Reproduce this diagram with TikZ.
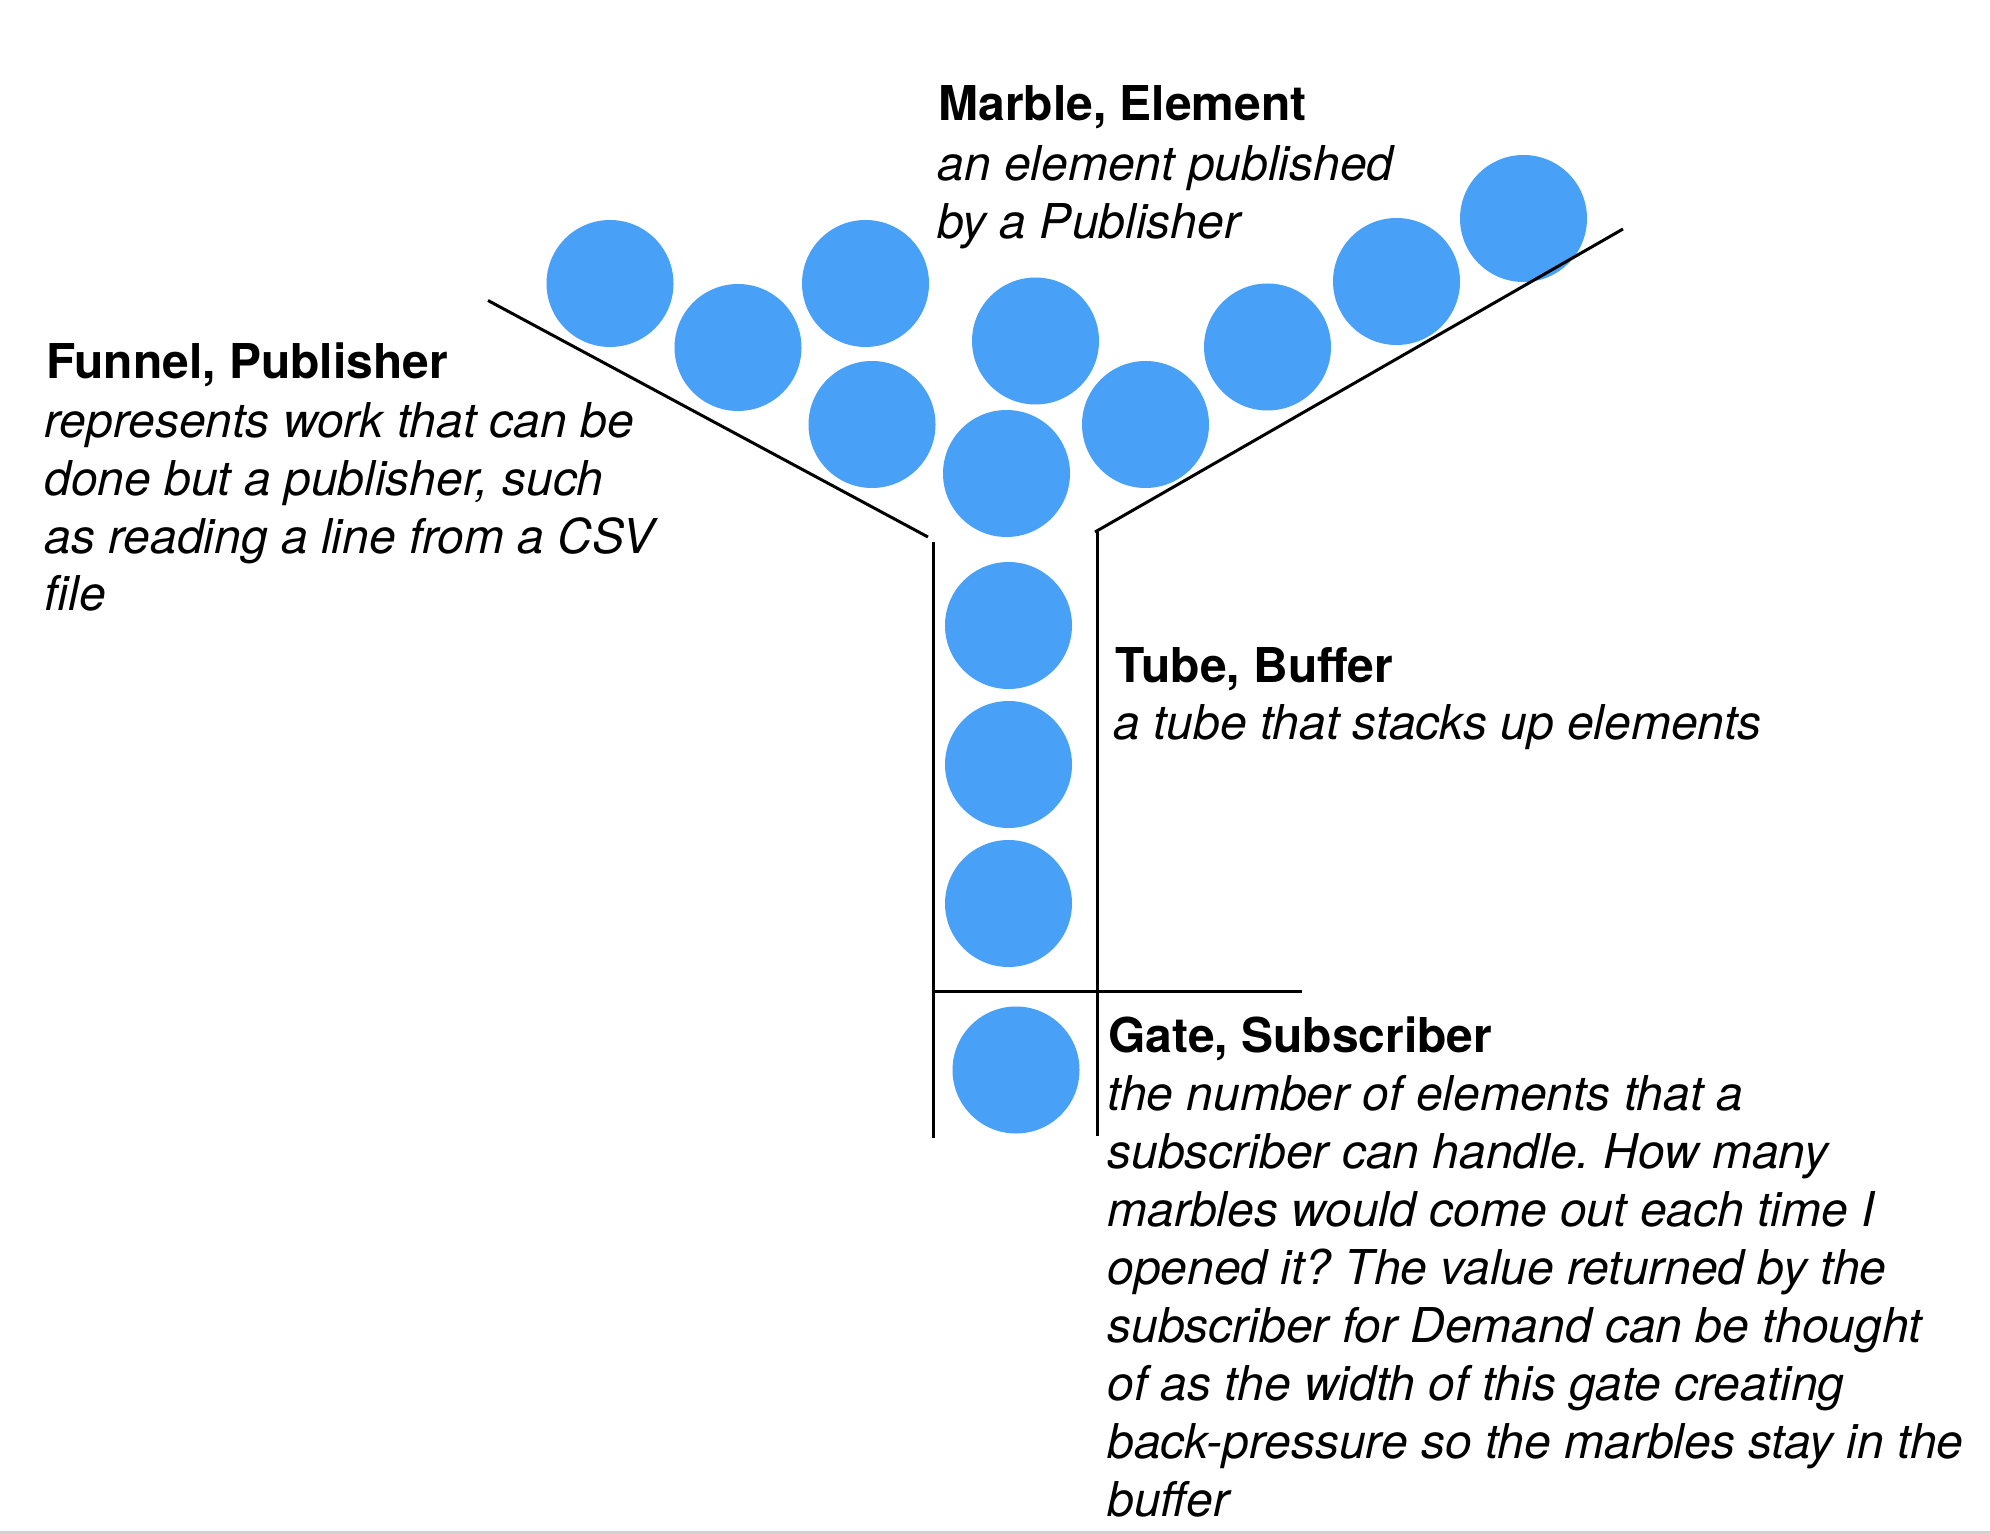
\documentclass[tikz,border=0pt]{standalone}
\usepackage{fontspec}
\setmainfont{TeX Gyre Heros}
\definecolor{marble}{RGB}{72,161,247}
\definecolor{edge}{RGB}{210,210,210}
\frenchspacing
\begin{document}
\begin{tikzpicture}[x=0.5pt,y=-0.5pt,
  marblenode/.style={circle,fill=marble,draw=none,minimum size=63.5pt,inner sep=0pt},
  wall/.style={line width=1.5pt,black,line cap=butt},
  hd/.style={anchor=base west,inner sep=0pt,font=\fontsize{24}{28.75}\selectfont\bfseries},
  bd/.style={anchor=base west,inner sep=0pt,font=\fontsize{24}{28.75}\selectfont\itshape}]
\useasboundingbox[fill=white] (0,0) rectangle (1990,1534);
\fill[edge] (0,1531) rectangle (1990,1534);
% marbles
\node[marblenode] (c1) at (610,283.5) {};
\node[marblenode] (c2) at (738,347.5) {};
\node[marblenode] (c3) at (865.5,283.5) {};
\node[marblenode] (c4) at (872,424.5) {};
\node[marblenode] (c5) at (1035.5,341) {};
\node[marblenode] (c6) at (1006.5,473.5) {};
\node[marblenode] (c7) at (1145.5,424.5) {};
\node[marblenode] (c8) at (1267.5,347) {};
\node[marblenode] (c9) at (1396.5,281.5) {};
\node[marblenode] (c10) at (1523.5,218.5) {};
\node[marblenode] (c11) at (1008.5,625.5) {};
\node[marblenode] (c12) at (1008.5,764.5) {};
\node[marblenode] (c13) at (1008.5,903.5) {};
\node[marblenode] (c14) at (1016,1070) {};
% funnel, tube, gate
\coordinate (fl1) at (488,300.5);
\coordinate (fl2) at (928,537);
\coordinate (tl1) at (933.5,542);
\coordinate (tl2) at (933.5,1138);
\coordinate (fr1) at (1623,229);
\coordinate (fr2) at (1095,532);
\coordinate (tr1) at (1097,532);
\coordinate (tr2) at (1097,1136);
\coordinate (g1) at (933.5,991);
\coordinate (g2) at (1302,991);
\draw[wall] (fl1) -- (fl2);
\draw[wall] (tl1) -- (tl2);
\draw[wall] (fr1) -- (fr2);
\draw[wall] (tr1) -- (tr2);
\draw[wall] (g1) -- (g2);
% Marble text
\node[hd] (m0) at (938,121) {Marble, Element};
\node[bd] (m1) at (937,181) {an element published};
\node[bd] (m2) at (937,239) {by a Publisher};
% Funnel text
\node[hd] (f0) at (46,378.5) {Funnel, Publisher};
\node[bd] (f1) at (44,438) {represents work that can be};
\node[bd] (f2) at (44,495.5) {done but a publisher, such};
\node[bd] (f3) at (44,553) {as reading a line from a CSV};
\node[bd] (f4) at (44,610.5) {file};
% Tube text
\node[hd] (t0) at (1115,682.5) {Tube, Buffer};
\node[bd] (t1) at (1113,739) {a tube that stacks up elements};
% Gate text
\node[hd] (s0) at (1108,1052) {Gate, Subscriber};
\node[bd] (s1) at (1107,1110.5) {the number of elements that a};
\node[bd] (s2) at (1107,1168.5) {subscriber can handle. How many};
\node[bd] (s3) at (1107,1226.5) {marbles would come out each time I};
\node[bd] (s4) at (1107,1284.5) {opened it? The value returned by the};
\node[bd] (s5) at (1107,1342.5) {subscriber for Demand can be thought};
\node[bd] (s6) at (1107,1400.5) {of as the width of this gate creating};
\node[bd] (s7) at (1107,1458.5) {back-pressure so the marbles stay in the};
\node[bd] (s8) at (1107,1516.5) {buffer};
\end{tikzpicture}
\end{document}
